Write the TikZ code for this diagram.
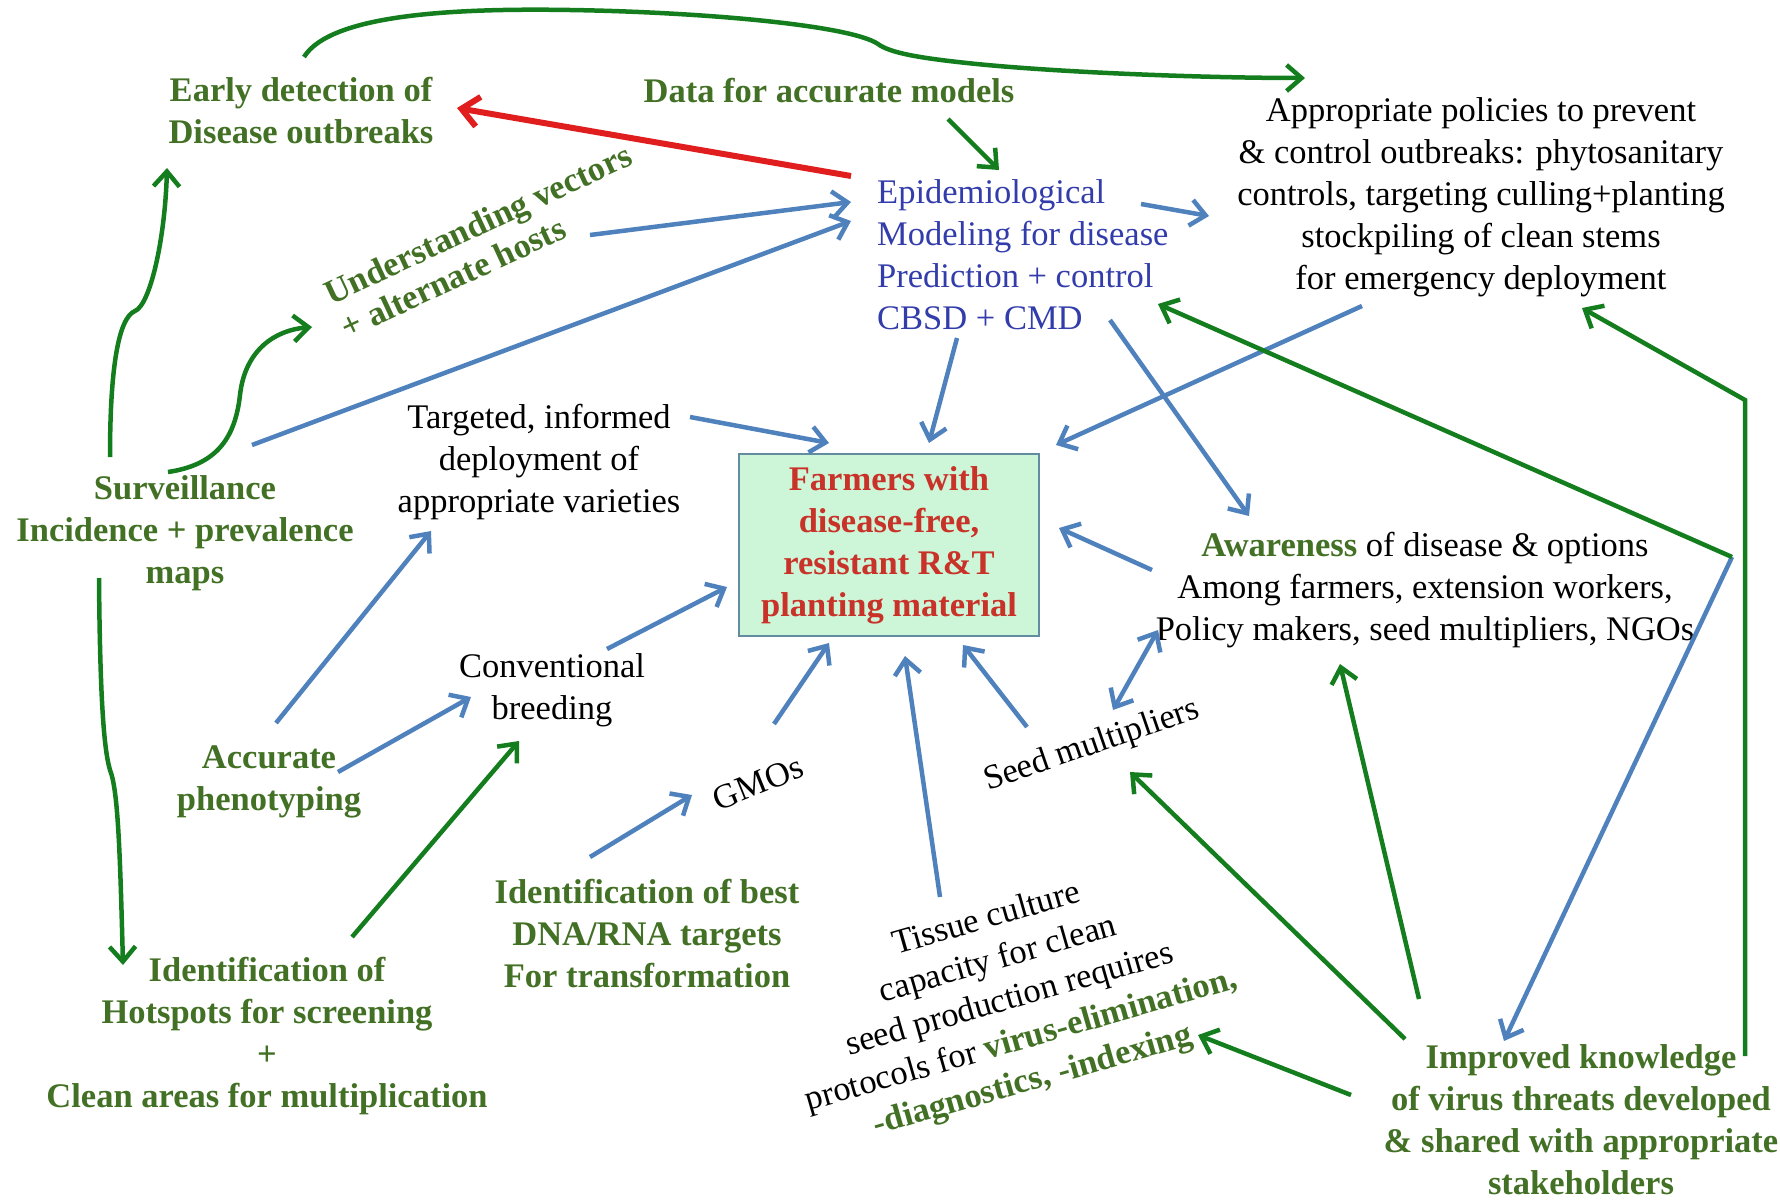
\documentclass[tikz,border=0pt]{standalone}
\usepackage{fontspec}
\setmainfont{Liberation Serif}
\usetikzlibrary{arrows.meta}

\definecolor{txtgreen}{RGB}{66,112,36}
\definecolor{txtblue}{RGB}{50,60,170}
\definecolor{txtred}{RGB}{200,50,40}
\definecolor{linegreen}{RGB}{20,125,30}
\definecolor{lineblue}{RGB}{79,129,189}
\definecolor{linered}{RGB}{225,30,30}
\definecolor{boxfill}{RGB}{205,245,215}
\definecolor{boxedge}{RGB}{100,140,160}

\begin{document}
\begin{tikzpicture}[x=1pt,y=-1pt,  % one unit = one pixel of the 1780x1200 sheet
    >={Straight Barb[length=15pt,width=26pt]},
    lbl/.style={align=center,inner sep=0pt,font=\fontsize{34.5}{42}\selectfont},
    glbl/.style={lbl,text=txtgreen,font=\fontsize{34.5}{42}\selectfont\bfseries},
    barrow/.style={draw=lineblue,line width=4.5pt,->},
    garrow/.style={draw=linegreen,line width=4.5pt,->},
    rarrow/.style={draw=linered,line width=6pt,->,>={Straight Barb[length=17pt,width=30pt]}},
    goal/.style={lbl,draw=boxedge,fill=boxfill,line width=2.5pt,minimum width=300pt,minimum height=182pt,
        text=txtred,font=\fontsize{34.5}{42}\selectfont\bfseries}
]
    \useasboundingbox (0,0) rectangle (1780,1200);  % sheet

    % Nodes
    \node[goal] (box) at (889,545) {Farmers with\\disease-free,\\resistant R\&T\\planting material};  % centre box
    \node[glbl] (early) at (301,111) {Early detection of\\Disease outbreaks};
    \node[glbl] (data) at (829,91) {Data for accurate models};
    \node[lbl] (policy) at (1481,197) {Appropriate policies to prevent\\\& control outbreaks: phytosanitary\\controls, targeting culling+planting\\stockpiling of clean stems\\for emergency deployment};
    \node[lbl,align=left,anchor=west,text=txtblue] (epi) at (877,255) {Epidemiological\\Modeling for disease\\Prediction + control\\CBSD + CMD};
    \node[glbl,align=left,rotate=25,font=\fontsize{34.5}{38}\selectfont\bfseries] (under) at (486,241) {Understanding vectors\\+ alternate hosts};
    \node[glbl] (surv) at (185,533) {Surveillance\\Incidence + prevalence\\maps};
    \node[lbl] (target) at (539,462) {Targeted, informed\\deployment of\\appropriate varieties};
    \node[lbl] (aware) at (1425,590) {{\bfseries\color{txtgreen}Awareness} of disease \& options\\Among farmers, extension workers,\\Policy makers, seed multipliers, NGOs};
    \node[lbl] (conv) at (552,690) {Conventional\\breeding};
    \node[glbl] (acc) at (269,782) {Accurate\\phenotyping};
    \node[lbl,rotate=22] (gmo) at (758,783) {GMOs};
    \node[lbl,rotate=19] (seed) at (1092,746) {Seed multipliers};
    \node[glbl] (best) at (647,934) {Identification of best\\DNA/RNA targets\\For transformation};
    \node[glbl] (hot) at (267,1036) {Identification of\\Hotspots for screening\\+\\Clean areas for multiplication};
    \node[lbl,rotate=16] (tissue) at (1010,1001) {Tissue culture\\capacity for clean\\seed production requires\\protocols for {\bfseries\color{txtgreen}virus-elimination,}\\{\bfseries\color{txtgreen}-diagnostics, -indexing}};
    \node[glbl] (impr) at (1581,1120) {Improved knowledge\\of virus threats developed\\\& shared with appropriate\\stakeholders};
    \coordinate (jct) at (1732,557);  % where the two long lines meet

    % Blue connections
    \draw[barrow] ([shift={(104,-6)}]under.center) -- ([shift={(-26,-53)}]epi.west);
    \draw[barrow] ([shift={(67,-88)}]surv.center) -- ([shift={(-26,-34)}]epi.west);
    \draw[barrow] ([shift={(264,-51)}]epi.west) -- ([shift={(-272,19)}]policy.center);
    \draw[barrow] ([shift={(80,83)}]epi.west) -- ([shift={(40,-102)}]box.center);
    \draw[barrow] ([shift={(-119,109)}]policy.center) -- ([shift={(167,-100)}]box.center);
    \draw[barrow] ([shift={(233,65)}]epi.west) -- ([shift={(-176,-74)}]aware.center);
    \draw[barrow] ([shift={(151,-45)}]target.center) -- ([shift={(-60,-102)}]box.center);
    \draw[barrow] ([shift={(7,-59)}]acc.center) -- ([shift={(-108,69)}]target.center);
    \draw[barrow] ([shift={(69,-10)}]acc.center) -- ([shift={(-81,7)}]conv.center);
    \draw[barrow] ([shift={(55,-41)}]conv.center) -- ([shift={(-162,42)}]box.center);
    \draw[barrow] ([shift={(16,-59)}]gmo.center) -- ([shift={(-60,98)}]box.center);
    \draw[barrow] ([shift={(-57,-77)}]best.center) -- ([shift={(-66,12)}]gmo.center);
    \draw[barrow] ([shift={(-70,-104)}]tissue.center) -- ([shift={(16,111)}]box.center);
    \draw[barrow] ([shift={(-65,-19)}]seed.center) -- ([shift={(74,100)}]box.center);
    \draw[barrow] ([shift={(-273,-20)}]aware.center) -- ([shift={(170,-17)}]box.center);
    \draw[barrow,<->] ([shift={(21,-36)}]seed.center) -- ([shift={(-267,40)}]aware.center);
    \draw[barrow] (jct) -- ([shift={(-77,-79)}]impr.center);

    % Green connections
    \draw[garrow] ([shift={(3,-54)}]early.center) .. controls (330,15) and (450,8) .. (570,10)
        .. controls (700,12) and (850,25) .. (878,44) .. controls (890,53) and (920,58) .. (967,63)
        .. controls (1050,72) and (1200,78) .. ([shift={(-176,-119)}]policy.center);
    \draw[garrow] ([shift={(-75,-76)}]surv.center) .. controls (110,370) and (118,318) .. (135,311)
        .. controls (150,305) and (165,240) .. ([shift={(-134,57)}]early.center);
    \draw[garrow] ([shift={(-17,-61)}]surv.center) .. controls (215,465) and (235,440) .. (240,395)
        .. controls (245,350) and (275,330) .. ([shift={(-174,86)}]under.center);
    \draw[garrow] ([shift={(-86,45)}]surv.center) .. controls (100,700) and (104,750) .. (110,770)
        .. controls (118,790) and (120,850) .. ([shift={(-144,-71)}]hot.center);
    \draw[garrow] ([shift={(85,-99)}]hot.center) -- ([shift={(-33,51)}]conv.center);
    \draw[garrow] ([shift={(119,28)}]data.center) -- ([shift={(122,-85)}]epi.west);
    \draw[garrow] ([shift={(-230,-25)}]impr.center) -- ([shift={(188,34)}]tissue.center);
    \draw[garrow] ([shift={(-176,-81)}]impr.center) -- ([shift={(38,26)}]seed.center);
    \draw[garrow] ([shift={(-162,-121)}]impr.center) -- ([shift={(-85,74)}]aware.center);
    \draw[garrow] ([shift={(164,-64)}]impr.center) -- ++(0,-656) -- ([shift={(101,111)}]policy.center);
    \draw[garrow] (jct) -- ([shift={(281,49)}]epi.west);

    % Red connection
    \draw[rarrow] ([shift={(-26,-79)}]epi.west) -- ([shift={(156,-3)}]early.center);
\end{tikzpicture}
\end{document}
